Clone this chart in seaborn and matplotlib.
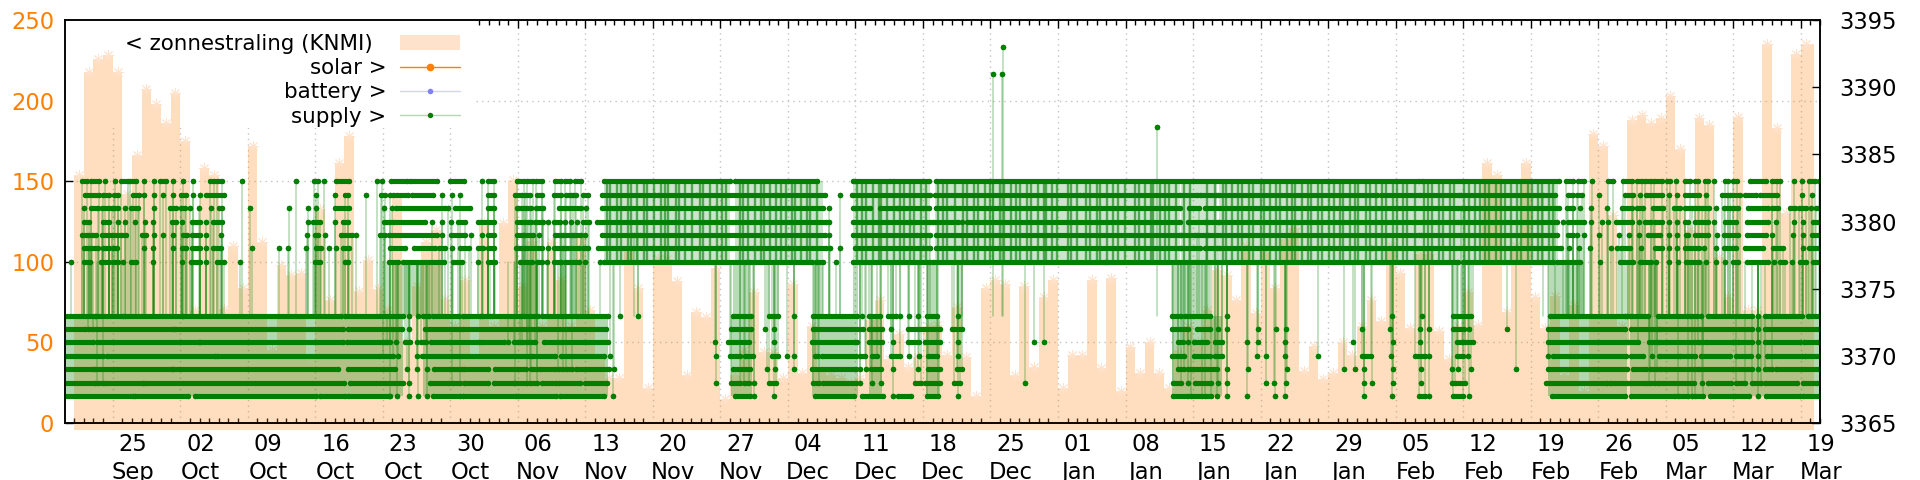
import matplotlib
matplotlib.use("Agg")
import matplotlib.pyplot as plt
from matplotlib.lines import Line2D
from matplotlib.patches import Patch, Rectangle
import numpy as np
import pandas as pd
import seaborn as sns

# all days are counted from the 25 Sep tick
tick_days = ["25", "02", "09", "16", "23", "30", "06", "13", "20", "27", "04", "11", "18",
             "25", "01", "08", "15", "22", "29", "05", "12", "19", "26", "05", "12", "19"]
tick_months = ["Sep", "Oct", "Oct", "Oct", "Oct", "Oct", "Nov", "Nov", "Nov", "Nov", "Dec", "Dec", "Dec",
               "Dec", "Jan", "Jan", "Jan", "Jan", "Jan", "Feb", "Feb", "Feb", "Feb", "Mar", "Mar", "Mar"]

# daily bars, first bar starts at day -4
solar_first_day = -4
solar_values = [154, 218, 226, 228, 218, 142, 166, 207, 198, 186, 205, 175, 70, 158, 154, 71, 110, 84, 172, 112,
                45, 98, 92, 93, 40, 133, 76, 161, 178, 82, 101, 83, 70, 140, 50, 85, 112, 120, 77, 60,
                89, 40, 125, 60, 124, 151, 85, 113, 60, 112, 89, 60, 115, 70, 40, 28, 28, 107, 84, 22,
                102, 102, 88, 30, 69, 66, 96, 15, 30, 45, 81, 44, 44, 28, 86, 31, 60, 32, 30, 28,
                25, 28, 64, 76, 40, 55, 35, 41, 60, 61, 42, 72, 41, 17, 84, 89, 86, 30, 85, 35,
                78, 89, 22, 42, 42, 89, 34, 90, 20, 47, 31, 50, 31, 22, 45, 60, 50, 70, 95, 92,
                76, 110, 68, 106, 84, 114, 121, 32, 48, 27, 31, 50, 42, 60, 76, 63, 110, 93, 59, 105,
                105, 57, 40, 60, 81, 61, 161, 154, 69, 110, 161, 78, 59, 79, 30, 73, 20, 179, 172, 129,
                60, 188, 191, 186, 189, 203, 170, 120, 189, 185, 103, 78, 190, 70, 70, 235, 183, 130, 229, 235]

# supply: [start, end] runs of samples per level, a single number is one sample
supply_3393 = [92.3]
supply_3391 = [91.3, 92.2]
supply_3387 = [108.3]
supply_3383 = [[-3.2, -2.7], [-2.2, -1.4], -0.8, 0.2, [0.9, 1.6], [1.8, 2.4], 3.2, 4.3, [4.9, 5.5], 6.3, 7.3, 8.3,
               [10.1, 10.5], [10.8, 11.3], 13.4, 19, [20.9, 21.3], 21.9, [23.2, 24.5], 27.4, 27.9, [28.9, 30.5],
               [30.8, 33.6], [35, 36.4], 38.3, [38.9, 39.5], [41.9, 42.6], [42.9, 43.6], [43.9, 44.5], [45.9, 46.5],
               [46.9, 47.4], [47.9, 48.5], [50.9, 64], [64.5, 73], [76.7, 80.6], [80.9, 84.6], [85.4, 135.4],
               [135.7, 149.9], [150.7, 151.4], [151.9, 152.5], 153.4, [155, 155.5], [156.6, 157.5], [158, 158.5],
               [158.9, 159.5], [159.8, 160.6], [161.1, 161.5], 162.1, [163, 163.5], [164, 164.4], [165.1, 165.4],
               166, [167.2, 167.5], [168, 168.4], [169.7, 171.4], [172, 172.5], 172.9, 174.3, 175.1, [175.9, 176.5],
               176.9]
supply_3382 = [[-2.9, -1.4], [-1, -0.4], [0.1, 0.6], [2.1, 2.7], 3.2, 4.3, 5.2, 6.3, [7.1, 7.6], 8.3, 9, [9.7, 11.5],
               21.1, 23, [24.1, 24.4], 26.3, [27.8, 28.2], 28.7, [29.1, 30.6], [31, 33.2], 34.1, 35.2, 36,
               [38.9, 39.5], [41.7, 42.4], [42.7, 43.3], [44, 44.5], [45.8, 46.5], [47, 47.5], [47.7, 48], [48.8, 49.3],
               [50.7, 56.2], [56.5, 60.5], [60.6, 68.7], [68.9, 73.8], 75.4, [76.6, 84.7], [85.3, 100.3], [100.6, 110.7],
               [111, 112.4], [112.7, 114.4], [114.6, 131.1], [131.5, 135.5], [135.8, 139.6], [139.8, 148.1],
               [148.3, 149.5], [150.9, 151.4], [151.8, 152.3], 154.1, [156.8, 157.6], 158.3, [159, 160.6], 161.3, 162.2,
               [163, 164.5], 165.2, [166.8, 167.5], [167.7, 168.7], [169.2, 170.4], [170.8, 172.5], 175.1, 176.2]
supply_3381 = [-3, [-2.3, -1.5], [-1.1, -0.4], [-0.1, 0.6], 1.3, [1.9, 2.6], 4.3, [5.9, 6.6], [7.1, 7.5], 8, 8.9, 10.2,
               [11, 11.3], 14.2, 18.3, 20.2, 21.1, [23, 24.5], 28.1, 29, [29.4, 34.4], 34.8, [35.5, 37], [38.9, 39.5],
               [41.9, 42.5], [42.8, 43.4], [43.9, 44.6], [46.3, 48.5], 49.1, [50.7, 52], [52.3, 62.4], [62.6, 73.6], 74.3,
               [76.7, 78.5], [79.5, 81.3], [81.4, 84.6], [85.4, 86.9], [87.1, 110.6], [111.6, 112.6], [113.2, 139.5],
               [139.8, 140.2], [140.5, 149.9], [150.8, 151.4], 152.1, 153.3, 154.9, [156.5, 157.5], [158, 158.6],
               [159.7, 160.7], [161.9, 162.5], [163, 163.7], [164, 164.5], [164.8, 165.5], 166.2, [167, 167.7], [168, 168.5],
               [169.5, 171.6], [172, 172.6], [173.9, 174.4], [174.8, 175.5], 176.1, [176.6, 177.2]]
supply_3380 = [[-3, -2.5], [-1, -0.4], 0.5, 1.3, 2.3, 3.4, 4.2, [6.1, 6.6], 7.2, [8.2, 9.1], 9.7, [10.4, 11.3], 20.2,
               [20.8, 21.5], 23, [23.9, 24.4], [28.1, 28.7], [29.1, 32.4], 33.1, 34.1, 35.1, [35.8, 36.5], [37.9, 39.5],
               [41.9, 42.7], [43.1, 43.4], [43.8, 44.6], 45.1, [45.8, 46.4], 46.9, 47.5, 48.1, [48.8, 49.4], [50.2, 74], 74.3,
               [76.8, 82.6], [82.8, 84.7], [85, 87.6], 88, [88.6, 110.6], [111.5, 113.2], [113.5, 114.6], [114.7, 139.5],
               [139.8, 149.7], 150.4, [150.9, 152.5], 153.3, 154.4, 155, [155.8, 157.5], 158.2, [158.9, 159.5], [159.9, 160.6],
               161.3, 162.2, [163, 163.3], [164, 165.4], 166, [167.2, 168.3], [169.4, 171.6], 172.4, 174.3, 175.2, [176.3, 177.2]]
supply_3379 = [[-3.2, -2.5], [-2.1, -1.7], [-1.1, -0.4], [-0.1, 0.6], [0.9, 1.4], [3, 3.5], 4.3, 5.2, 6.3, [7.3, 7.7],
               [8.2, 9.1], 9.7, 11.2, 20.1, [21, 21.3], 22, [23.7, 24.8], 25.2, [27.7, 28.2], [28.6, 33.6], 34.1, [35.1, 36.5],
               37.1, 38.3, [38.9, 39.5], [41.9, 42.5], [42.6, 43.6], 44.2, [45.9, 46.5], [46.7, 47.6], [47.8, 48.6], 49,
               [50.7, 53.8], [54, 54.5], [54.7, 67.4], [67.6, 73.8], 74.3, [76.7, 83.4], [83.7, 84.7], [85.4, 110.6],
               [110.8, 112.2], [112.4, 113.3], [113.6, 135.4], [135.6, 149.7], [150.9, 151.4], 151.8, 152.5, 154.1, 156.2,
               157.2, 158.2, [159.2, 160.4], 161.3, 162.2, [163.1, 163.3], [164, 165.4], 166.3, [167, 168.5], [169.4, 171.4],
               172, 174.2, 175.2, [176.2, 177.2]]
supply_3378 = [[-3, -2.5], [-2.2, -1.5], [-1, -0.4], [0, 0.4], 3.2, 4.2, 6.3, [7.2, 7.6], [8.2, 9.1], 9.7, [10.4, 11.2],
               14.4, 17.2, 18.2, 20, [21.1, 21.6], 22.4, 23.2, [23.9, 24.5], [28.7, 30.3], [31.2, 33.4], [33.8, 34.5], 35.2,
               [36, 36.9], [37.9, 38.4], [38.9, 39.5], [41.8, 42.4], [42.7, 44.5], 45.1, [45.8, 46.7], [46.9, 48.3], [48.8, 49.3],
               [50.3, 62.6], [62.8, 66.4], [66.8, 69.7], [70, 74], 74.4, 75.4, [77, 84.7], [85.4, 87.5], [87.7, 110.6],
               [110.8, 112.7], [113.2, 114.5], [114.7, 130.5], [130.6, 150.2], 151, 152, 153.2, 155.3, 156, [156.4, 157.3],
               158.4, [159.9, 160.6], 161.3, 162.2, [163, 164.5], 165, 166.2, [167, 168.3], [169.2, 171.1], [172.1, 173.2],
               175.2, [175.9, 177.2]]
supply_3377 = [-4.3, [-3, -2.4], [-1.2, -0.4], [0, 0.6], 1.1, [1.9, 2.4], 4.2, 7.2, [8.1, 9], 9.7, [10.8, 11.5], 13.2,
               [21, 21.5], 24.1, 24.4, [28.6, 29.6], [30.1, 34.3], [35.3, 36.2], 37.9, [38.9, 39.6], [42.2, 43.5], [44, 44.5],
               45, [45.7, 46.5], [46.9, 48], 48.3, 49, 50.5, [50.9, 65.7], [66, 72.5], [72.9, 73.6], 75, [76.8, 84.7],
               [85, 102.9], [103.1, 139.5], [140, 149.3], [149.7, 152.1], 154.2, [156.3, 157.6], [158.3, 159.5], 160, 161.3,
               162.3, [163.1, 164.5], 165.2, 166.2, 167.2, [168, 168.5], [169.4, 171.6], 172.2, [172.9, 173.4], 174.1,
               [174.9, 175.6], [176.3, 177]]
supply_3373 = [[-5.1, -1.8], [-1.7, 1.1], [1.3, 7.2], [7.3, 23.7], [24.1, 30.1], 30.7, 31.7, [32.2, 32.8], [33.2, 35.9],
               [36.3, 38.1], [38.3, 39.1], [39.3, 42.3], [42.6, 44.1], [44.5, 51.4], 52.6, 54.5, [64.3, 66.2], [68, 69], 70.6,
               [72.6, 77.2], 77.7, [78.4, 79.5], [80.4, 81.2], 81.6, 82.6, 83.5, [84.4, 85.5], 87.6, [109.8, 110.8], [111.2, 111.7],
               [112, 113.8], 115.5, 132.6, 135.7, [139, 140.8], [149, 156.8], 157, [157.3, 159.2], [160.2, 163.2], [163.5, 164.2],
               164.7, [165.4, 170], 170.6, [171.3, 175.1], [175.8, 177]]
supply_3372 = [[-5.1, -2.9], [-2.6, -2], [-1.7, 6.3], [6.5, 23.9], [24.4, 30], 30.7, [32.4, 36], [36.3, 42.9], [43.2, 44],
               [44.2, 51.1], [64.1, 66.2], 67.6, 68.6, [72.6, 77.8], [78.4, 79.8], 80.7, [82.5, 85.8], [87, 88], [109.8, 111.5],
               [112.4, 113.8], 114.6, 115.5, 118.7, 120.6, 121.6, 129.5, 132.4, 135.5, 136.5, [139, 140.1], 140.6, 144.6,
               [148.8, 156.8], [157.4, 160.1], [160.3, 170], 170.6, [171.3, 177]]
supply_3371 = [[-4.9, -2], [-1.6, 8.9], [9.1, 23.9], [24.3, 28.2], [28.4, 28.8], 29.4, [30.3, 30.8], 31.5, [32, 32.5], [33, 38],
               [38.2, 40.6], 41, [41.6, 42.2], [42.4, 42.9], [43.2, 43.8], [44.7, 46.2], [46.5, 51.4], 62.4, [63.8, 66], 68.6,
               [72.5, 77.2], [78.4, 79.8], 80.9, [82.4, 83.6], [84.2, 85.8], 87.6, 95.5, 96.6, [110.4, 111], 111.5, [112.1, 113.5],
               [114.3, 115], 117.6, 118.7, 121.5, 128.6, 132.7, 135.5, [139.4, 139.9], [140.2, 141], [148.8, 156.9],
               [157.1, 158.1], [159.3, 160.1], [160.3, 164], [164.4, 164.9], [165.2, 168.2], [168.5, 170], 170.6, [171.3, 174.9],
               [175.3, 176.8]]
supply_3370 = [[-5.1, -1], [-0.6, 10.6], [10.8, 27.7], [28, 29.1], 29.6, 31.5, [32.1, 43.3], [43.5, 45.9], [46.5, 50.9], 51.6,
               62.5, [64, 65], [65.6, 66.4], [68.4, 69], 69.9, 70.6, [72.8, 73.1], [73.5, 77.1], [77.5, 78], [78.7, 79.2], [80.7, 81.6],
               82.6, 83.6, [84.5, 85.5], 87.6, [109.8, 111.1], [112.1, 113.8], [114.3, 115], 118.6, 119.6, 121.5, 125, [129.5, 130.5],
               132.5, [135, 136], 136.5, [139.4, 140], 140.5, 148.8, [149.3, 156.9], [157.4, 158.7], 159.6, [160.3, 162.3],
               [162.5, 164], [164.7, 167.7], [168.3, 169.8], 170.6, [171.5, 175.1], [175.4, 177]]
supply_3369 = [[-5.1, -2], [-1.8, 6.1], [6.3, 23.4], [24.4, 29.3], 30.5, 31.5, 32.6, [33.3, 36.2], [36.4, 38.9], [39.6, 42.8],
               [43.4, 44], [44.3, 45.9], [46.2, 46.7], [47, 47.6], [48, 51.5], 52, [64.3, 66.1], 67.8, 68.7, 70.6, [72.5, 77.1], 77.5,
               78.1, [78.6, 79.7], 80.9, 83.5, [84.5, 85.8], [87.5, 88], [110.4, 111.1], [111.5, 114.5], 115.5, 117.7, 121.7, 127.7,
               128.8, 129.7, 132.7, 135.6, 138.9, 139.5, 140.8, 145.5, [148.8, 157], [157.6, 159], [159.4, 160.1], [160.4, 164],
               [164.4, 170], 170.6, [171.3, 172], [172.4, 177]]
supply_3368 = [[-4.9, -1.8], [-1.6, -1], [-0.8, 3.1], [3.3, 24], [24.6, 30.1], 30.7, [32.9, 34.9], [35.2, 36], [36.4, 38.9],
               [39.5, 41.6], [41.7, 42.9], [43.3, 44], [44.5, 46], [46.3, 48.4], [49, 51.2], 62.5, [64.1, 65], [65.4, 66], 66.5,
               [68, 68.8], [72.6, 73.2], [73.6, 77.1], 77.5, 78.7, 79.6, [83.2, 83.8], [84.2, 85.8], [87.2, 87.8], 94.6, [109.9, 110.8],
               111.5, [112.2, 113.9], 114.6, 115.5, 119.6, 120.4, 121.6, 129.7, 130.6, 132.7, 135.6, 138.8, [139.2, 140.2],
               [148.6, 154.9], [155.2, 157], [157.3, 159], [159.3, 159.9], [160.2, 163.9], 164.8, [165.4, 167.8], [168.3, 169.2],
               [170, 170.9], [171.3, 174.6], [175.2, 176.7]]
supply_3367 = [[-5.1, 2.1], [2.3, 7.8], [8.5, 21.1], [21.5, 24.1], [24.4, 28.6], 28.8, 29.5, 30.7, 31.7, 32.6, [33.2, 36],
               [36.3, 41.8], [42, 46], [46.4, 50.9], 51.9, [64.5, 66.1], 66.5, 68.6, [72.8, 76.9], [77.7, 79.9], 80.9, [81.4, 82.8],
               [84.4, 85.6], 87.6, [109.9, 111.5], [111.8, 112.9], [113.2, 113.9], 114.5, 115.5, 117.6, 120.5, 121.5, 129.7,
               132.6, [135.4, 136], 136.5, [139, 140], 140.6, [149.2, 156.8], [157.4, 162], [162.3, 163.3], 163.7, [164, 164.9],
               [165.6, 168], [168.2, 169.6], 170.6, [171.4, 174.9], [175.2, 177]]

supply_levels = {3393: supply_3393, 3391: supply_3391, 3387: supply_3387,
                 3383: supply_3383, 3382: supply_3382, 3381: supply_3381, 3380: supply_3380,
                 3379: supply_3379, 3378: supply_3378, 3377: supply_3377,
                 3373: supply_3373, 3372: supply_3372, 3371: supply_3371, 3370: supply_3370,
                 3369: supply_3369, 3368: supply_3368, 3367: supply_3367}

# stretches where the thin connecting lines are too dense to tell apart
upper_dense = [(50.9, 64), (64.5, 73.6), (76.8, 84.7), (85.3, 110.6), (110.8, 114.5), (114.7, 149.8)]
lower_dense = [(-5.1, 30.1), (32.2, 51.4), (64.1, 66.3), (72.5, 77.3), (78.4, 79.8), (84.3, 85.8),
               (109.8, 115), (148.8, 157), (157.3, 177)]
between_dense = [(64.3, 66.2), (72.6, 73.6), (76.8, 77.3), (84.4, 85.5), (109.8, 113.8), (29, 34), (148.8, 152.5)]

# darker streaks seen inside the upper block
upper_streaks = [51.2, 51.6, 52.3, 52.7, 53.4, 53.7, 54.4, 55.1, 55.4, 56.1, 56.8, 57.3, 57.6, 58.4, 58.7, 59.3, 60.1,
                 60.9, 61.2, 61.9, 62.7, 63.2, 63.6, 65, 65.3, 65.9, 66.6, 67.2, 67.5, 68.1, 68.8, 69.3, 69.8, 70.4, 70.7,
                 71.4, 72, 72.3, 73, 77.2, 77.7, 78.1, 78.8, 79.4, 79.7, 80.3, 81, 81.6, 82, 82.7, 83.1, 83.8, 84.3,
                 85.6, 86.1, 86.5, 87.3, 88.2, 88.6, 89.3, 89.7, 90.4, 91, 91.3, 92, 92.4, 93.1, 93.6, 94.1, 94.8, 95.2,
                 95.9, 96.5, 96.8, 97.4, 97.9, 99, 99.4, 100, 100.9, 101.3, 102, 102.4, 103.1, 103.7, 104.2, 104.9,
                 106, 106.4, 107, 107.6, 107.9, 108.6, 109.1, 109.5, 110.2, 111.1, 111.7, 113.5, 114.3, 115.1, 115.4,
                 116, 116.7, 117.1, 117.8, 118.2, 119, 119.4, 120, 120.6, 121, 121.7, 122.3, 122.6, 123.3, 123.9, 124.2,
                 125, 125.4, 126.1, 126.6, 127.2, 127.5, 128.3, 128.8, 129.1, 129.9, 130.3, 131, 131.6, 132, 132.7, 133.1,
                 133.8, 134.2, 135, 135.9, 136.4, 136.8, 137.5, 137.9, 138.6, 139.1, 140.1, 140.6, 141.2, 141.7, 142.3,
                 142.7, 143.4, 143.9, 144.3, 145, 145.6, 146, 146.7, 147.1, 147.8, 148.2, 148.9, 149.3]

GREEN = "#007f00"
ORANGE = "#ff7f00"
PEACH = "#ffe2cc"


def supply_tables():
    runs, stems = [], []
    run_id = 0
    for level, entries in supply_levels.items():
        for entry in entries:
            start, end = entry if isinstance(entry, list) else (entry, entry)
            runs += [(run_id, start, level), (run_id, end, level)]
            if end - start < 1.2:
                # a short visit to a level: the line dips to the other block and back
                target = 3373 if level >= 3377 else 3377
                stems += [(2 * run_id, start, level), (2 * run_id, start, target)]
                if end > start:
                    stems += [(2 * run_id + 1, end, level), (2 * run_id + 1, end, target)]
            run_id += 1
    runs = pd.DataFrame(runs, columns=["run", "day", "value"])
    stems = pd.DataFrame(stems, columns=["run", "day", "value"])
    return runs, stems


sns.set_theme(style="white", rc={"font.family": "DejaVu Sans"})
fig = plt.figure(figsize=(19.2, 4.8), dpi=100)
ax = fig.add_axes([65.3 / 1920, 1 - 423 / 480, (1820 - 65.3) / 1920, (423 - 20) / 480])
ax2 = ax.twinx()
ax.set_zorder(1)
ax2.set_zorder(2)
ax2.patch.set_visible(False)

xmin, xmax = (65.3 - 112.7) / 9.646, (1820 - 112.7) / 9.646
ax.set_xlim(xmin, xmax)
ax.set_ylim(0, 250)
ax2.set_ylim(3365, 3395)

# grid stays behind a white key box, the bars are see-through on top of both
ax.set_axisbelow(True)
ax.grid(True, axis="both", color="#c4c4c4", linestyle=(0, (1, 3)), linewidth=1)
ax.add_patch(Rectangle((0, 1 - 108 / 403), 408 / 1755, 108 / 403, transform=ax.transAxes,
                       facecolor="white", edgecolor="none", zorder=0.8))

solar = pd.DataFrame({"day": solar_first_day + np.arange(len(solar_values)), "value": solar_values})
edges = np.append(solar["day"].to_numpy(), 176.4)
heights = np.append(solar["value"].to_numpy(), solar["value"].iloc[-1])
ax.fill_between(edges, -4.3, heights, step="post", color=ORANGE, alpha=0.25, linewidth=0, zorder=1, clip_on=False)
sns.scatterplot(data=solar.assign(day=solar["day"] + 0.5), x="day", y="value", ax=ax, marker=(8, 2, 0), s=55,
                color=PEACH, linewidth=0.7, zorder=1.1, legend=False)

runs, stems = supply_tables()
for start, end in lower_dense:
    ax2.fill_between([start, end], 3367, 3373, color=GREEN, alpha=0.3, linewidth=0, zorder=1)
for start, end in upper_dense:
    ax2.fill_between([start, end], 3377, 3383, color=GREEN, alpha=0.2, linewidth=0, zorder=1)
for start, end in between_dense:
    ax2.fill_between([start, end], 3373, 3377, color=GREEN, alpha=0.28, linewidth=0, zorder=1)
ax2.vlines(upper_streaks, 3377, 3383, color=GREEN, alpha=0.6, linewidth=1.7, zorder=1.2)
sns.lineplot(data=stems, x="day", y="value", units="run", estimator=None, ax=ax2, color=GREEN, alpha=0.3,
             linewidth=1.1, errorbar=None, sort=False, legend=False, zorder=1.5)
sns.lineplot(data=runs, x="day", y="value", units="run", estimator=None, ax=ax2, color=GREEN, linewidth=3.7,
             marker="o", markersize=3.9, markeredgewidth=0, solid_capstyle="round", errorbar=None, legend=False,
             zorder=2)
ax2.set_xlim(xmin, xmax)

# ticks, the date labels sit about two days right of their tick
major = np.arange(len(tick_days)) * 7
ax.set_xticks(major)
ax.set_xticks(np.arange(-4, 178), minor=True)
ax.set_xticklabels([])
for day, number, month in zip(major, tick_days, tick_months):
    ax.annotate(f"{number}\n{month}", xy=(day, 0), xycoords=ax.get_xaxis_transform(), xytext=(14.6, -7),
                textcoords="offset points", ha="center", va="top", fontsize=16.3, linespacing=1.28,
                annotation_clip=False, color="black")
ax.set_yticks([0, 50, 100, 150, 200, 250])
ax2.set_yticks(np.arange(3365, 3396, 5))
ax.tick_params(axis="x", which="major", direction="in", top=True, length=6, width=1, color="black")
ax.tick_params(axis="x", which="minor", direction="in", top=True, bottom=True, length=3.5, width=1, color="black")
ax.tick_params(axis="y", direction="in", left=True, length=6, width=1, pad=8, labelsize=16.3,
               color="black", labelcolor=ORANGE)
ax2.tick_params(axis="y", direction="in", right=True, length=6, width=1, pad=14, labelsize=16.3,
                color="black", labelcolor="black")
ax.set_xlabel("")
ax.set_ylabel("")
ax2.set_xlabel("")
ax2.set_ylabel("")
for axis in (ax, ax2):
    for spine in axis.spines.values():
        spine.set_visible(True)
        spine.set_color("black")
        spine.set_linewidth(1.1)

handles = [Patch(facecolor=PEACH, edgecolor="none"),
           (Line2D([], [], color=ORANGE, linewidth=1),
            Line2D([], [], color=ORANGE, linestyle="none", marker="o", markersize=5.5, markeredgewidth=0)),
           (Line2D([], [], color="#8080ff", alpha=0.35, linewidth=1),
            Line2D([], [], color="#8080ff", linestyle="none", marker="o", markersize=4, markeredgewidth=0)),
           (Line2D([], [], color=GREEN, linewidth=1, alpha=0.3),
            Line2D([], [], color=GREEN, linestyle="none", marker="o", markersize=3.9, markeredgewidth=0))]
labels = ["< zonnestraling (KNMI)  ", "solar >", "battery >", "supply >"]
key = ax2.legend(handles, labels, loc="upper right", bbox_to_anchor=((460 - 65.3) / 1755, 1 - 13.5 / 403), frameon=False,
                 markerfirst=False, fontsize=15.4, handlelength=2.8, handletextpad=0.65, labelspacing=0.21,
                 borderpad=0, borderaxespad=0, labelcolor="black")
key.set_zorder(5)

fig.savefig("out.png", dpi=100)
